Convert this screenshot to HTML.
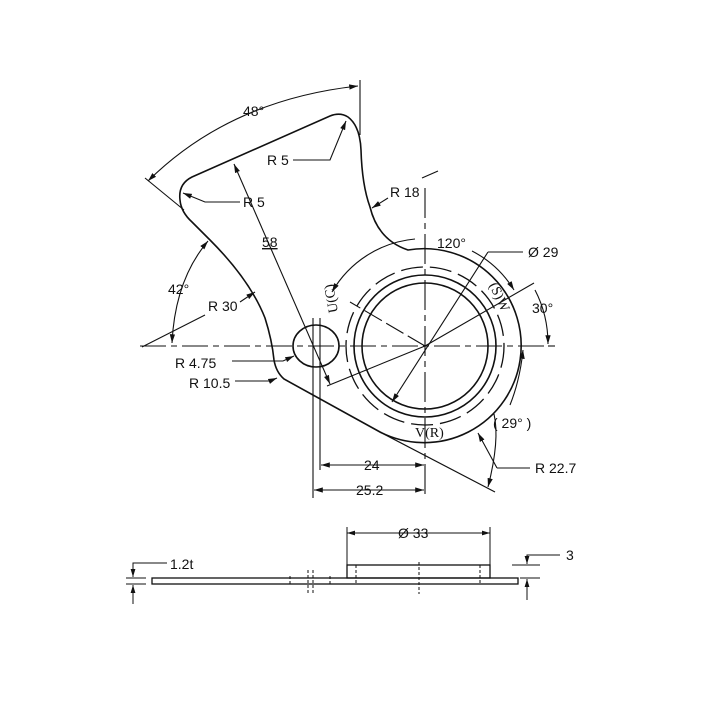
<!DOCTYPE html>
<html><head><style>
html,body{margin:0;padding:0;background:#fff;}
svg{display:block;}
text{font-family:"Liberation Sans",sans-serif;font-size:14px;fill:#111;}
</style></head><body>
<svg width="720" height="720" viewBox="0 0 720 720" xmlns="http://www.w3.org/2000/svg">
<defs>
<marker id="a" viewBox="0 0 10 10" refX="10" refY="5" markerWidth="8" markerHeight="8" orient="auto-start-reverse"><path d="M0,2 L10,5 L0,8 z" fill="#111"/></marker>
</defs>
<g fill="none" stroke="#111" stroke-width="1.6">
<!-- body -->
<path d="M 380,432 A97 97 0 1 0 408,250 Q 378,240 370,207 Q 362,185 361,150 Q 360,126 348,117 Q 340,112 330,116 L 192,177 Q 178,184 180,200 Q 181,212 192,222 L 210,240 Q 250,280 265,318 Q 272,340 274,360 Q 276,372 284,379 Z"/>
<line x1="380" y1="432" x2="495" y2="492" stroke-width="1.2"/>
<!-- hole -->
<ellipse cx="316" cy="346" rx="23" ry="21"/>
<!-- rings -->
<circle cx="425" cy="346" r="63"/>
<circle cx="425" cy="346" r="71"/>
<circle cx="425" cy="346" r="79" stroke-dasharray="22 7" stroke-width="1.3"/>
</g>
<g fill="none" stroke="#111" stroke-width="1.1">
<!-- centerlines -->
<line x1="140" y1="346" x2="555" y2="346" stroke-dasharray="26 5 6 5"/>
<line x1="425" y1="188" x2="425" y2="498" stroke-dasharray="30 5 6 5"/>
<line x1="313" y1="318" x2="313" y2="498"/>
<line x1="320" y1="318" x2="320" y2="470"/>
<line x1="548" y1="346" x2="555" y2="346"/>
<!-- radial lines -->
<line x1="425" y1="346" x2="350" y2="302" stroke-dasharray="20 5"/>
<line x1="425" y1="346" x2="534" y2="283"/>
<line x1="425" y1="346" x2="327" y2="386"/>
<!-- dia 29 -->
<line x1="392" y1="402" x2="488" y2="252" marker-start="url(#a)"/>
<line x1="488" y1="252" x2="523" y2="252"/>
<!-- 120 arc -->
<path d="M 332,292 A107 107 0 0 1 415,239" marker-start="url(#a)"/>
<path d="M 472,251 A107 107 0 0 1 514,290" marker-end="url(#a)"/>
<!-- 30 arc -->
<path d="M 535,290 Q 548,315 548,344" marker-end="url(#a)"/>
<!-- 29 arc -->
<path d="M 494,414 Q 500,440 488,487" marker-end="url(#a)"/>
<path d="M 510,405 Q 520,380 523,350" marker-end="url(#a)"/>
<!-- R22.7 -->
<line x1="497" y1="468" x2="478" y2="433" marker-end="url(#a)"/>
<line x1="497" y1="468" x2="530" y2="468"/>
<!-- 24 / 25.2 -->
<line x1="321" y1="465" x2="424" y2="465" marker-start="url(#a)" marker-end="url(#a)"/>
<line x1="314" y1="490" x2="424" y2="490" marker-start="url(#a)" marker-end="url(#a)"/>
<!-- 48 -->
<path d="M 148,181 Q 230,100 358,86" marker-start="url(#a)" marker-end="url(#a)"/>
<line x1="145" y1="178" x2="184" y2="210"/>
<line x1="360" y1="80" x2="360" y2="135"/>
<!-- 42 -->
<path d="M 172,343 Q 175,280 208,241" marker-start="url(#a)" marker-end="url(#a)"/>
<line x1="142" y1="347" x2="205" y2="315"/>
<!-- R30 -->
<line x1="240" y1="302" x2="255" y2="292" marker-end="url(#a)"/>
<!-- 58 -->
<line x1="234" y1="164" x2="330" y2="384" marker-start="url(#a)" marker-end="url(#a)"/>
<!-- R5 top -->
<polyline points="293,160 330,160 346,121" marker-end="url(#a)"/>
<!-- R5 left -->
<polyline points="240,202 205,202 183,193" marker-end="url(#a)"/>
<!-- R18 -->
<line x1="388" y1="198" x2="372" y2="208" marker-end="url(#a)"/>
<line x1="422" y1="178" x2="438" y2="171"/>
<!-- R4.75 / R10.5 -->
<polyline points="232,361 283,361 294,356" marker-end="url(#a)"/>
<polyline points="235,381 270,381 277,378" marker-end="url(#a)"/>
</g>
<g stroke="#111" stroke-width="1.3" fill="none">
<!-- side view -->
<rect x="152" y="578" width="366" height="6"/>
<rect x="347" y="565" width="143" height="13"/>
<line x1="347" y1="527" x2="347" y2="565" stroke-width="1"/>
<line x1="490" y1="527" x2="490" y2="565" stroke-width="1"/>
<line x1="347" y1="533" x2="490" y2="533" stroke-width="1" marker-start="url(#a)" marker-end="url(#a)"/>
<g stroke-width="1" stroke-dasharray="3 2">
<line x1="290" y1="576" x2="290" y2="586"/><line x1="308" y1="570" x2="308" y2="594"/><line x1="313" y1="570" x2="313" y2="594"/>
<line x1="330" y1="576" x2="330" y2="586"/><line x1="356" y1="565" x2="356" y2="584"/><line x1="480" y1="565" x2="480" y2="584"/>
<line x1="419" y1="562" x2="419" y2="594"/>
</g>
<g stroke-width="1">
<line x1="126" y1="578" x2="146" y2="578"/><line x1="126" y1="584" x2="146" y2="584"/>
<polyline points="167,563 133,563 133,577" marker-end="url(#a)"/>
<line x1="133" y1="604" x2="133" y2="585" marker-end="url(#a)"/>
<line x1="512" y1="565" x2="540" y2="565"/><line x1="520" y1="578" x2="540" y2="578"/>
<polyline points="560,555 527,555 527,564" marker-end="url(#a)"/>
<line x1="527" y1="600" x2="527" y2="579" marker-end="url(#a)"/>
</g>
</g>
<g>
<text x="243" y="116">48°</text>
<text x="267" y="165">R 5</text>
<text x="243" y="207">R 5</text>
<text x="390" y="197">R 18</text>
<text x="262" y="247" style="text-decoration:underline">58</text>
<text x="168" y="294">42°</text>
<text x="208" y="311">R 30</text>
<text x="175" y="368">R 4.75</text>
<text x="189" y="388">R 10.5</text>
<text x="437" y="248">120°</text>
<text x="528" y="257">Ø 29</text>
<text x="532" y="313">30°</text>
<text x="493" y="428">( 29° )</text>
<text x="535" y="473">R 22.7</text>
<text x="415" y="437" style="font-family:'Liberation Serif',serif">V(R)</text>
<text transform="translate(338,312) rotate(-100)" style="font-family:'Liberation Serif',serif">U(C)</text>
<text transform="translate(489,285) rotate(65)" style="font-family:'Liberation Serif',serif">(S)W</text>
<text x="364" y="470">24</text>
<text x="356" y="495">25.2</text>
<text x="398" y="538">Ø 33</text>
<text x="170" y="569">1.2t</text>
<text x="566" y="560">3</text>
</g>
</svg>
</body></html>
